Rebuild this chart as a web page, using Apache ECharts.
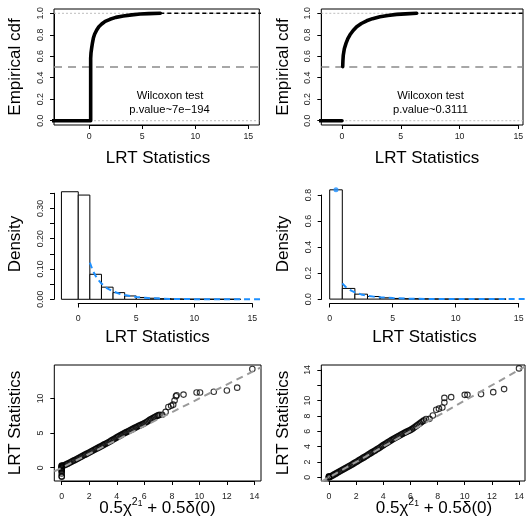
<!DOCTYPE html>
<html>
<head>
<meta charset="utf-8">
<script src="https://cdn.jsdelivr.net/npm/echarts@6/dist/echarts.min.js"></script>
<style>
  html, body { margin: 0; padding: 0; background: #fff; }
  #chart { width: 527px; height: 521px; }
</style>
</head>
<body>
<div id="chart"></div>
<script>
// ---------------- data ----------------
// Empirical CDF of the LRT statistic (left: raw, right: truncated at zero)
const ecdfLeftX = [-4, 0.13, 0.13, 0.16, 0.22, 0.3, 0.38, 0.5, 0.7, 0.9, 1.17, 1.5, 1.95, 2.5, 3.2, 4.0, 4.8, 5.6, 6.7];
const ecdfLeftF = [0, 0, 0.58, 0.63, 0.674, 0.725, 0.767, 0.805, 0.845, 0.875, 0.90, 0.925, 0.944, 0.962, 0.975, 0.985, 0.993, 0.997, 1.0];
const ecdfRightLowX = [-3, 0];
const ecdfRightLowF = [0, 0];
const ecdfRightX = [0.06, 0.08, 0.11, 0.2, 0.34, 0.5, 0.68, 0.95, 1.25, 1.65, 2.1, 2.6, 3.23, 3.9, 4.65, 5.4, 6.35];
const ecdfRightF = [0.503, 0.56, 0.61, 0.67, 0.72, 0.765, 0.80, 0.84, 0.875, 0.905, 0.93, 0.95, 0.968, 0.98, 0.99, 0.995, 1.0];
const ecdfTailX = [6.7, 17];
const ecdfTailF = [1, 1];
const cdfBounds = [0, 1];
const cdfMidLevel = 0.5;
const testTitle = 'Wilcoxon test';
const pValueLeft = 'p.value~7e\u2212194';
const pValueRight = 'p.value~0.3111';

// Histograms (bin start, bin end, density)
const histLeftStart = [-1.45, 0, 1, 2, 3, 4, 5, 6, 7, 8, 9, 10, 11, 12, 13];
const histLeftEnd   = [0, 1, 2, 3, 4, 5, 6, 7, 8, 9, 10, 11, 12, 13, 14];
const histLeftDens  = [0.355, 0.344, 0.0825, 0.040, 0.022, 0.011, 0.006, 0.0035, 0.002, 0.0012, 0.0005, 0.0004, 0.0003, 0.0002, 0.0002];
const histRightStart = [0, 1, 2, 3, 4, 5, 6, 7, 8, 9, 10, 11, 12, 13];
const histRightEnd   = [1, 2, 3, 4, 5, 6, 7, 8, 9, 10, 11, 12, 13, 14];
const histRightDens  = [0.84, 0.082, 0.038, 0.02, 0.01, 0.005, 0.003, 0.002, 0.0012, 0.0005, 0.0004, 0.0003, 0.0002, 0.0002];
// reference mixture density (dashed blue) and its point mass marker
const refDensX = [1, 1.25, 1.5, 1.75, 2, 2.5, 3, 3.5, 4, 5, 6, 7, 8, 10, 12, 14, 17];
const refDensY = [0.121, 0.095, 0.077, 0.063, 0.052, 0.036, 0.026, 0.019, 0.014, 0.0077, 0.0041, 0.0022, 0.0012, 0.0004, 0.00013, 0.00004, 0.00001];
const refMassX = [0.5];
const refMassY = [0.84];

// QQ plots: theoretical quantile vs observed LRT
const qqZeroLeftY = [-1.3, -1.22, -0.82, -0.55, -0.38, -0.25, -0.15, -0.05, 0.05, 0.15, 0.25];
const qqZeroRightY = [0, 0.04, 0.08, 0.12];
const qqBandX = [0.0, 0.1, 0.2, 0.3, 0.4, 0.5, 0.6, 0.7, 0.8, 0.9,
                 1.0, 1.1, 1.2, 1.3, 1.4, 1.5, 1.6, 1.7, 1.8, 1.9,
                 2.0, 2.1, 2.2, 2.3, 2.4, 2.5, 2.6, 2.7, 2.8, 2.9,
                 3.0, 3.1, 3.2, 3.3, 3.4, 3.5, 3.6, 3.7, 3.8, 3.9,
                 4.0, 4.1, 4.2, 4.3, 4.4, 4.5, 4.6, 4.7, 4.8, 4.9,
                 5.0, 5.1, 5.2, 5.3, 5.4, 5.5, 5.6, 5.7, 5.8, 5.9,
                 6.0, 6.1, 6.2, 6.3, 6.4, 6.5, 6.6, 6.7, 6.8, 6.9, 7.0];
const qqBandLeftY = [0.32, 0.30, 0.36, 0.46, 0.55, 0.65, 0.75, 0.85, 0.95, 1.05,
                     1.15, 1.26, 1.36, 1.46, 1.57, 1.67, 1.78, 1.88, 1.99, 2.09,
                     2.20, 2.30, 2.41, 2.51, 2.62, 2.72, 2.82, 2.93, 3.04, 3.14,
                     3.25, 3.36, 3.46, 3.57, 3.68, 3.79, 3.90, 4.02, 4.14, 4.25,
                     4.37, 4.48, 4.59, 4.70, 4.81, 4.92, 5.03, 5.13, 5.23, 5.33,
                     5.43, 5.53, 5.64, 5.74, 5.84, 5.94, 6.03, 6.12, 6.21, 6.31,
                     6.41, 6.52, 6.64, 6.77, 6.90, 7.02, 7.14, 7.25, 7.36, 7.46, 7.55];
const qqBandRightY = [0.02, 0.08, 0.18, 0.28, 0.38, 0.48, 0.58, 0.68, 0.78, 0.88,
                      0.98, 1.08, 1.18, 1.28, 1.38, 1.48, 1.58, 1.68, 1.78, 1.89,
                      1.99, 2.10, 2.21, 2.31, 2.42, 2.53, 2.63, 2.74, 2.85, 2.96,
                      3.07, 3.18, 3.29, 3.40, 3.50, 3.61, 3.72, 3.83, 3.95, 4.07,
                      4.19, 4.30, 4.41, 4.52, 4.63, 4.74, 4.85, 4.95, 5.05, 5.15,
                      5.25, 5.35, 5.45, 5.55, 5.65, 5.74, 5.83, 5.92, 6.00, 6.08,
                      6.16, 6.28, 6.40, 6.53, 6.66, 6.79, 6.92, 7.05, 7.18, 7.30, 7.42];
const qqTailLeftX = [7.1, 7.3, 7.55, 7.75, 7.95, 8.1, 8.2, 8.3, 8.35, 8.85, 9.8, 10.05, 11.05, 12.0, 12.75, 13.85];
const qqTailLeftY = [7.62, 7.65, 8.05, 8.75, 8.95, 9.1, 9.7, 10.3, 10.45, 10.55, 10.85, 10.85, 10.95, 11.15, 11.55, 14.25];
const qqTailRightX = [7.15, 7.4, 7.65, 7.9, 8.1, 8.35, 8.5, 8.5, 9.0, 10.0, 10.2, 11.2, 12.1, 12.9, 14.0];
const qqTailRightY = [7.6, 7.62, 8.05, 8.8, 8.95, 9.1, 9.75, 10.35, 10.45, 10.75, 10.75, 10.85, 11.1, 11.5, 14.2];
const qqLineIntercept = 0;
const qqLineSlope = 1;

// Axis ticks and labels
const lrtXTicks = [0, 5, 10, 15];
const cdfYTicks = [0, 0.2, 0.4, 0.6, 0.8, 1.0];
const cdfYLabels = ['0.0', '0.2', '0.4', '0.6', '0.8', '1.0'];
const histLeftYTicks = [0, 0.05, 0.10, 0.15, 0.20, 0.25, 0.30, 0.35];
const histLeftYLabels = ['0.00', '0.10', '0.20', '0.30'];
const histRightYTicks = [0, 0.2, 0.4, 0.6, 0.8];
const histRightYLabels = ['0.0', '0.2', '0.4', '0.6', '0.8'];
const qqXTicks = [0, 2, 4, 6, 8, 10, 12, 14];
const qqLeftYTicks = [0, 5, 10];
const qqLeftYLabels = ['0', '5', '10'];
const qqRightYTicks = [0, 2, 4, 6, 8, 10, 12, 14];
const qqRightYLabels = ['0', '2', '4', '6', '8', '10', '14'];

// ---------------- layout helpers ----------------
const FONT = '"Liberation Sans", Arial, Helvetica, sans-serif';
const grids = [], xAxes = [], yAxes = [], series = [];
const zip = (a, b) => a.map((v, i) => [v, b[i]]);

function tickFormatter(labels, decimals) {
  return v => {
    const s = decimals == null ? String(Math.round(v)) : Number(v).toFixed(decimals);
    return labels == null || labels.indexOf(s) >= 0 ? s : '';
  };
}

function addPanel(p) {
  const [left, top, width, height] = p.rect;
  const [x0, x1] = p.x, [y0, y1] = p.y;
  const gi = grids.length;
  grids.push({
    left, top, width, height,
    show: !!p.box, borderColor: '#000', borderWidth: 1, backgroundColor: 'transparent',
    containLabel: false, outerBoundsMode: 'none'
  });
  xAxes.push({ gridIndex: gi, type: 'value', min: x0, max: x1, show: false, splitLine: { show: false } });
  yAxes.push({ gridIndex: gi, type: 'value', min: y0, max: y1, show: false, splitLine: { show: false } });

  // Axis lines spanning only the tick range, as in base graphics
  const xt = p.xTicks, yt = p.yTicks;
  const px = v => left + (v - x0) / (x1 - x0) * width;
  const py = v => top + height - (v - y0) / (y1 - y0) * height;
  const aLeft = px(xt[0]), aRight = px(xt[xt.length - 1]);
  const aTop = py(yt[yt.length - 1]), aBottom = py(yt[0]);
  const ai = grids.length;
  grids.push({
    left: aLeft, top: aTop, width: aRight - aLeft, height: aBottom - aTop,
    show: false, containLabel: false, outerBoundsMode: 'none'
  });
  const common = {
    type: 'value',
    axisLine: { show: true, onZero: false, lineStyle: { color: '#000', width: 1 } },
    axisTick: { show: true, length: 4, lineStyle: { color: '#000', width: 1 } },
    splitLine: { show: false },
    silent: true
  };
  xAxes.push(Object.assign({}, common, {
    gridIndex: ai, position: 'bottom',
    min: xt[0], max: xt[xt.length - 1], interval: xt[1] - xt[0],
    offset: top + height - aBottom,
    axisLabel: { fontSize: 8.8, fontFamily: FONT, color: '#222', margin: p.xMargin,
                 formatter: tickFormatter(null, null), showMinLabel: true, showMaxLabel: true }
  }));
  yAxes.push(Object.assign({}, common, {
    gridIndex: ai, position: 'left',
    min: yt[0], max: yt[yt.length - 1], interval: yt[1] - yt[0],
    offset: aLeft - left,
    axisLabel: { fontSize: 8.8, fontFamily: FONT, color: '#222', margin: 9, rotate: 90,
                 formatter: tickFormatter(p.yLabels, p.yDecimals), showMinLabel: true, showMaxLabel: true }
  }));
  return { gi, x0, x1, y0, y1 };
}

function lineSeries(g, data, style, z) {
  series.push({
    type: 'line', xAxisIndex: g.gi, yAxisIndex: g.gi, data, symbol: 'none',
    lineStyle: style, z, clip: true, silent: true, animation: false
  });
}

function histSeries(g, starts, ends, dens) {
  series.push({
    type: 'custom', xAxisIndex: g.gi, yAxisIndex: g.gi, clip: true, silent: true, z: 2,
    data: starts.map((s, i) => [s, ends[i], dens[i]]),
    encode: { x: [0, 1], y: 2 },
    renderItem: (params, api) => {
      const a = api.coord([api.value(0), api.value(2)]);
      const b = api.coord([api.value(1), 0]);
      return {
        type: 'rect',
        shape: { x: a[0], y: a[1], width: b[0] - a[0], height: b[1] - a[1] },
        style: { fill: '#fff', stroke: '#000', lineWidth: 1 }
      };
    }
  });
}

function qqSeries(g, data) {
  series.push({
    type: 'scatter', xAxisIndex: g.gi, yAxisIndex: g.gi, data, symbol: 'circle', symbolSize: 5.5,
    itemStyle: { color: 'rgba(0,0,0,0)', borderColor: '#000', borderWidth: 1.1 },
    z: 3, clip: true, silent: true, animation: false
  });
}

// ---------------- panels ----------------
const pEcdfL = addPanel({ rect: [54, 9, 205.3, 116], x: [-3.33, 16.04], y: [-0.04, 1.04], box: true,
  xTicks: lrtXTicks, yTicks: cdfYTicks, yLabels: cdfYLabels, yDecimals: 1, xMargin: 7 });
const pEcdfR = addPanel({ rect: [321.3, 9, 201.7, 116], x: [-1.76, 15.4], y: [-0.04, 1.04], box: true,
  xTicks: lrtXTicks, yTicks: cdfYTicks, yLabels: cdfYLabels, yDecimals: 1, xMargin: 7 });
const pHistL = addPanel({ rect: [54, 187.5, 209, 116], x: [-2.09, 15.92], y: [-0.0139, 0.369], box: false,
  xTicks: lrtXTicks, yTicks: histLeftYTicks, yLabels: histLeftYLabels, yDecimals: 2, xMargin: 11 });
const pHistR = addPanel({ rect: [321.7, 185.4, 205.3, 118.1], x: [-0.635, 15.66], y: [-0.0338, 0.874], box: false,
  xTicks: lrtXTicks, yTicks: histRightYTicks, yLabels: histRightYLabels, yDecimals: 1, xMargin: 11 });
const pQqL = addPanel({ rect: [54.3, 365, 206.7, 116], x: [-0.54, 14.48], y: [-1.92, 14.82], box: true,
  xTicks: qqXTicks, yTicks: qqLeftYTicks, yLabels: qqLeftYLabels, yDecimals: null, xMargin: 11 });
const pQqR = addPanel({ rect: [321.3, 365, 203.7, 116], x: [-0.567, 14.44], y: [-0.48, 14.64], box: true,
  xTicks: qqXTicks, yTicks: qqRightYTicks, yLabels: qqRightYLabels, yDecimals: null, xMargin: 11 });

// ECDF panels: reference levels, then the step curve on top
const dotted = { color: '#bdbdbd', width: 1, type: [2, 2] };
const midDash = { color: '#8a8a8a', width: 1.6, type: [8, 6] };
const cdfLine = { color: '#000', width: 3.6, cap: 'round', join: 'round' };
const tailLine = { color: '#000', width: 1.4, type: [4, 3] };
[pEcdfL, pEcdfR].forEach(g => {
  cdfBounds.forEach(v => lineSeries(g, [[g.x0, v], [g.x1, v]], dotted, 1));
  lineSeries(g, [[g.x0, cdfMidLevel], [g.x1, cdfMidLevel]], midDash, 1);
  lineSeries(g, zip(ecdfTailX, ecdfTailF), tailLine, 4);
});
lineSeries(pEcdfL, zip(ecdfLeftX, ecdfLeftF), cdfLine, 5);
lineSeries(pEcdfR, zip(ecdfRightLowX, ecdfRightLowF), cdfLine, 5);
lineSeries(pEcdfR, zip(ecdfRightX, ecdfRightF), cdfLine, 5);

// Histogram panels with the reference density
const blueDash = { color: '#1E90FF', width: 2, type: [6, 4] };
histSeries(pHistL, histLeftStart, histLeftEnd, histLeftDens);
histSeries(pHistR, histRightStart, histRightEnd, histRightDens);
[pHistL, pHistR].forEach(g => {
  lineSeries(g, zip(refDensX, refDensY), blueDash, 4);
  series.push({
    type: 'scatter', xAxisIndex: g.gi, yAxisIndex: g.gi, data: zip(refMassX, refMassY),
    symbol: 'circle', symbolSize: 5, itemStyle: { color: '#1E90FF' }, z: 5, clip: true, silent: true
  });
});

// QQ panels
const qqDash = { color: '#9a9a9a', width: 2, type: [7, 5] };
[pQqL, pQqR].forEach(g => {
  const ends = [g.x0, g.x1];
  lineSeries(g, ends.map(x => [x, qqLineIntercept + qqLineSlope * x]), qqDash, 4);
});
qqSeries(pQqL, qqZeroLeftY.map(y => [0, y])
  .concat(zip(qqBandX, qqBandLeftY), zip(qqTailLeftX, qqTailLeftY)));
qqSeries(pQqR, qqZeroRightY.map(y => [0, y])
  .concat(zip(qqBandX, qqBandRightY), zip(qqTailRightX, qqTailRightY)));

// ---------------- titles and annotations ----------------
function txt(text, x, y, size, rot) {
  return {
    type: 'text', x, y, rotation: rot || 0, silent: true,
    style: { text, fill: '#000', fontSize: size, fontFamily: FONT, align: 'center', verticalAlign: 'middle' }
  };
}
const R90 = Math.PI / 2;
const qqXLabel = {
  type: 'text', x: 0, y: 0, silent: true,
  style: {
    text: '{a|0.5\u03C7}{b|2}{c|1}{a| + 0.5\u03B4(0)}',
    fill: '#000', fontFamily: FONT, align: 'center', verticalAlign: 'middle',
    rich: {
      a: { fontSize: 17, fontFamily: FONT, lineHeight: 22 },
      b: { fontSize: 10.5, fontFamily: FONT, verticalAlign: 'top', lineHeight: 11 },
      c: { fontSize: 8.5, fontFamily: FONT, verticalAlign: 'top', lineHeight: 9, padding: [2, 0, 0, 0] }
    }
  }
};
const graphics = [
  txt('Empirical cdf', 15.5, 67, 17, R90),
  txt('Empirical cdf', 283, 67, 17, R90),
  txt('Density', 15.5, 244, 17, R90),
  txt('Density', 283, 244, 17, R90),
  txt('LRT Statistics', 15.5, 423, 17, R90),
  txt('LRT Statistics', 283, 423, 17, R90),
  txt('LRT Statistics', 158, 158, 17),
  txt('LRT Statistics', 427, 158, 17),
  txt('LRT Statistics', 157.5, 337, 17),
  txt('LRT Statistics', 424.5, 337, 17),
  Object.assign({}, qqXLabel, { x: 157.5, y: 508 }),
  Object.assign({}, qqXLabel, { x: 434, y: 508 }),
  txt(testTitle, 170, 95.5, 11.2),
  txt(pValueLeft, 169.5, 110, 11.2),
  txt(testTitle, 430.5, 95.5, 11.2),
  txt(pValueRight, 430.5, 110, 11.2)
];

const chart = echarts.init(document.getElementById('chart'), null, { renderer: 'canvas' });
chart.setOption({
  animation: false,
  backgroundColor: '#fff',
  textStyle: { fontFamily: FONT },
  grid: grids,
  xAxis: xAxes,
  yAxis: yAxes,
  series,
  graphic: { elements: graphics }
});
</script>
</body>
</html>
